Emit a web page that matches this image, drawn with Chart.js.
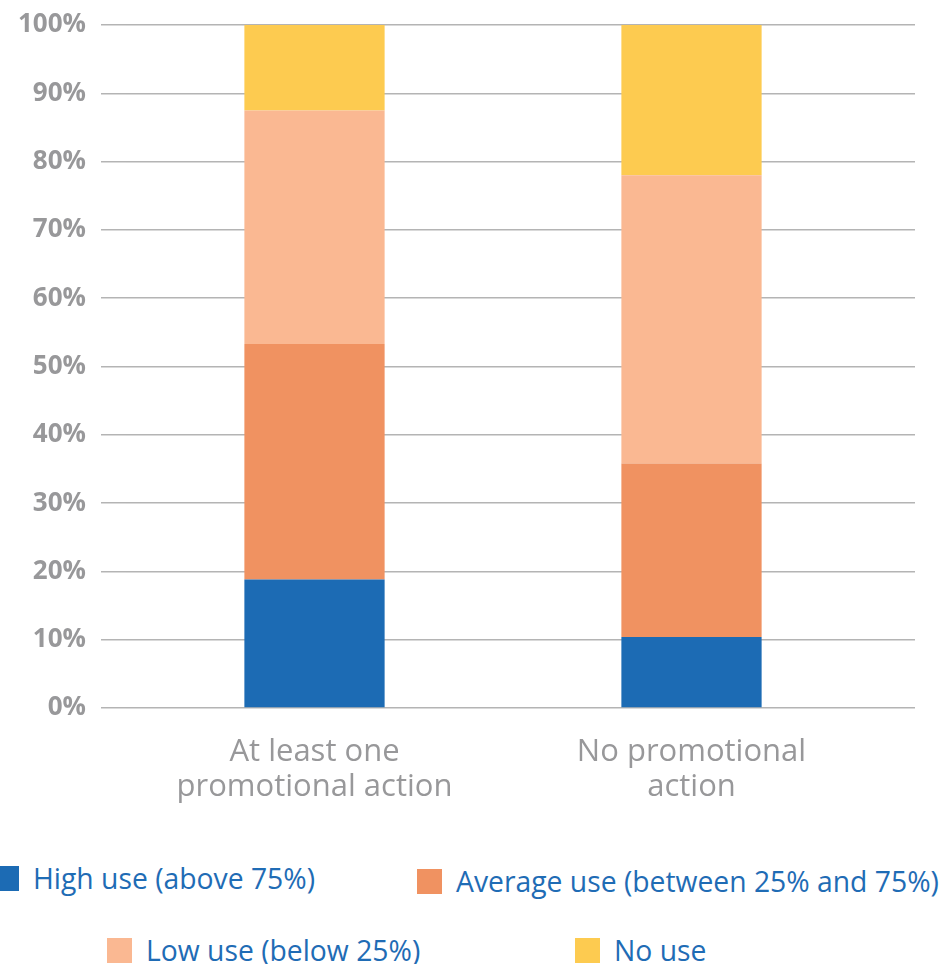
<!DOCTYPE html>
<html>
<head>
<meta charset="utf-8">
<script src="https://cdn.jsdelivr.net/npm/chart.js@4.4.1/dist/chart.umd.min.js"></script>
<style>
  html, body { margin: 0; padding: 0; background: #fff; }
  #wrap { position: relative; width: 941px; height: 964px; overflow: hidden; }
  #chartBox { position: absolute; left: 0; top: 0; width: 941px; height: 820px; }
  .key { position: absolute; display: flex; align-items: center; font-family: 'Open Sans', sans-serif; font-size: 28.3px; color: #1f6cb5; white-space: nowrap; }
  .key i { display: inline-block; width: 25px; height: 25px; margin-right: 14px; }
</style>
</head>
<body>
<div id="wrap">
  <div id="chartBox"><canvas id="chart"></canvas></div>
  <div id="legend"></div>
</div>
<script>
// Share of use by promotional activity (percent of respondents)
const categories = [['At least one', 'promotional action'], ['No promotional', 'action']];
const seriesNames = ['High use (above 75%)', 'Average use (between 25% and 75%)', 'Low use (below 25%)', 'No use'];
const highUse = [18.8, 10.4];
const averageUse = [34.5, 25.4];
const lowUse = [34.2, 42.2];
const noUse = [12.5, 22.0];
const yTicks = [0, 10, 20, 30, 40, 50, 60, 70, 80, 90, 100];

const COLORS = ['#1c6bb4', '#f09261', '#fab892', '#fdcb50'];
const GRID = '#b4b4b4';

// Legend slots (two staggered rows)
const LEGEND_POS = [
  { left: -6, top: 859 },
  { left: 417, top: 862 },
  { left: 107, top: 931 },
  { left: 575, top: 931 }
];

const seriesData = [highUse, averageUse, lowUse, noUse];

const datasets = seriesNames.map((name, i) => ({
  label: name,
  data: seriesData[i],
  backgroundColor: COLORS[i],
  borderWidth: 0,
  barPercentage: 0.372,
  categoryPercentage: 1
}));

// Both y axes share the same ticks; the box padding from the labels is
// dropped so the layout padding alone sets the top of the plot
const tickOpts = {
  min: 0,
  max: 100,
  afterBuildTicks: (axis) => { axis.ticks = yTicks.map(v => ({ value: v })); }
};

const fixAxis = (width) => (axis) => {
  axis.width = width;
  axis.paddingTop = 0;
  axis.paddingBottom = 0;
};

new Chart(document.getElementById('chart'), {
  type: 'bar',
  data: { labels: categories, datasets },
  options: {
    responsive: true,
    maintainAspectRatio: false,
    animation: false,
    layout: { padding: { top: 25, left: 0, right: 0, bottom: 0 } },
    plugins: { legend: { display: false }, tooltip: { enabled: false } },
    scales: {
      x: {
        stacked: true,
        offset: true,
        grid: { display: false, drawTicks: false },
        border: { display: false },
        afterFit: (axis) => { axis.height = 112; },
        ticks: {
          padding: 27,
          color: '#98989a',
          font: { family: 'Open Sans', size: 31, weight: 'normal', lineHeight: 1.13 }
        }
      },
      y: {
        stacked: true,
        position: 'left',
        ...tickOpts,
        afterFit: fixAxis(126),
        grid: { color: GRID, lineWidth: 1.5, tickLength: 25, tickColor: GRID },
        border: { display: false },
        ticks: {
          padding: 15,
          color: '#98989a',
          font: { family: 'Open Sans', size: 26, weight: 'bold' },
          callback: (v) => v + '%'
        }
      },
      yRight: {
        position: 'right',
        ...tickOpts,
        afterFit: fixAxis(61),
        grid: { drawOnChartArea: false, color: GRID, lineWidth: 1.5, tickLength: 35 },
        border: { display: false },
        ticks: { display: false }
      }
    }
  }
});

// Legend built from the same series names and colours
const legend = document.getElementById('legend');
seriesNames.forEach((name, i) => {
  const item = document.createElement('div');
  item.className = 'key';
  item.style.left = LEGEND_POS[i].left + 'px';
  item.style.top = LEGEND_POS[i].top + 'px';
  item.innerHTML = '<i style="background:' + COLORS[i] + '"></i><span></span>';
  item.querySelector('span').textContent = name;
  legend.appendChild(item);
});
</script>
</body>
</html>
